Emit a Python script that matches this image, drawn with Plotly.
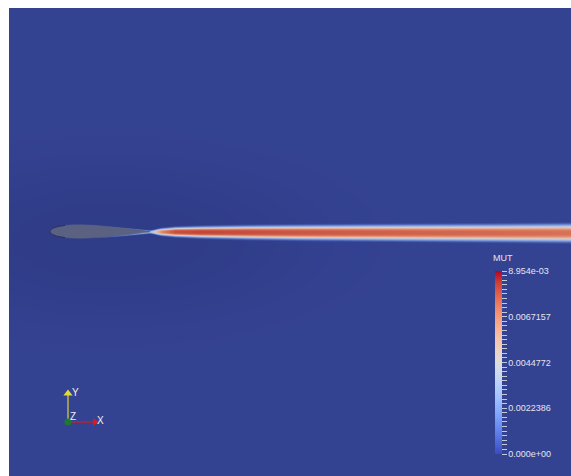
import numpy as np
import plotly.graph_objects as go

# ---------------------------------------------------------------- data
# MUT range shown on the colour legend
MUT_MIN = 0.0
MUT_MAX = 0.0089543
tick_labels = ["0.000e+00", "0.0022386", "0.0044772", "0.0067157", "8.954e-03"]

# airfoil half-thickness table (x/c, y/c)
foil_xc = [0.0, 0.0125, 0.025, 0.05, 0.075, 0.1, 0.15, 0.2, 0.25, 0.3,
           0.4, 0.5, 0.6, 0.7, 0.8, 0.9, 0.95, 1.0]
foil_yt = [0.0, 0.0215, 0.0300, 0.0410, 0.0482, 0.0535, 0.0605, 0.0645,
           0.0665, 0.0668, 0.0640, 0.0575, 0.0485, 0.0380, 0.0265, 0.0145,
           0.0082, 0.0014]

# wake stations (x/c) with centreline MUT, half-width and centre height
wake_x = [1.0, 1.1, 1.25, 1.5, 2.0, 2.5, 3.5, 4.5, 5.21]
wake_peak = [0.0030, 0.0064, 0.0080, 0.0082, 0.0080, 0.0078, 0.0075, 0.0073, 0.0071]
wake_width = [0.014, 0.030, 0.040, 0.047, 0.055, 0.060, 0.066, 0.071, 0.076]
wake_yc = [0.0, 0.0, 0.0, -0.002, -0.004, -0.006, -0.008, -0.010, -0.011]

# boundary layer on the aft part of the airfoil
bl_x = [0.35, 0.6, 0.8, 0.95, 1.0]
bl_peak = [0.0, 0.0008, 0.0016, 0.0026, 0.0030]
bl_thick = [0.004, 0.006, 0.009, 0.011, 0.013]

# far field level and the low region around the body
MUT_FREESTREAM = 0.00027
MUT_NEAR_BODY = 0.00006

# ---------------------------------------------------------------- view
X_RANGE = [-0.41, 5.21]
Y_RANGE = [-2.445, 2.235]
W, H = 571, 476
ML, MT = 9, 8

xs = np.linspace(X_RANGE[0], X_RANGE[1], 282)
ys = np.linspace(Y_RANGE[0], Y_RANGE[1], 469)
X, Y = np.meshgrid(xs, ys)

# far field with the darker pocket around the airfoil
r2 = ((X - 0.6) / 2.0) ** 2 + ((Y + 0.09) / 0.78) ** 2
field = MUT_FREESTREAM - (MUT_FREESTREAM - MUT_NEAR_BODY) * np.exp(-r2 ** 1.5)

# wake
pk = np.interp(xs, wake_x, wake_peak, left=0.0, right=wake_peak[-1])
wd = np.interp(xs, wake_x, wake_width)
yc = np.interp(xs, wake_x, wake_yc)
wake = pk[None, :] * np.exp(-np.abs((Y - yc[None, :]) / wd[None, :]) ** 3)
field = np.maximum(field, wake)

# boundary layer along upper and lower surfaces
yt = np.interp(xs, foil_xc, foil_yt, left=0.0, right=0.0)
bp = np.interp(xs, bl_x, bl_peak, left=0.0, right=0.0)
bt = np.interp(xs, bl_x, bl_thick)
dist = np.abs(Y) - yt[None, :]
bl = bp[None, :] * np.exp(-(np.clip(dist, 0, None) / bt[None, :]) ** 2)
field = np.maximum(field, bl)
field = np.round(np.clip(field, MUT_MIN, MUT_MAX), 7)

# shaded colours used in the rendered scene
scene_scale = [
    [0.00, "rgb(46,58,132)"],
    [0.03, "rgb(52,66,146)"],
    [0.10, "rgb(74,96,180)"],
    [0.20, "rgb(112,142,212)"],
    [0.30, "rgb(148,172,224)"],
    [0.40, "rgb(182,194,218)"],
    [0.50, "rgb(208,204,206)"],
    [0.60, "rgb(226,184,166)"],
    [0.70, "rgb(228,150,122)"],
    [0.80, "rgb(214,110,84)"],
    [0.90, "rgb(198,76,62)"],
    [1.00, "rgb(172,30,38)"],
]

# cool-to-warm legend colours
cool_warm = [
    [0.0, "rgb(59,76,192)"], [0.0625, "rgb(77,104,215)"],
    [0.125, "rgb(98,130,234)"], [0.1875, "rgb(119,154,247)"],
    [0.25, "rgb(141,176,254)"], [0.3125, "rgb(163,194,255)"],
    [0.375, "rgb(184,208,249)"], [0.4375, "rgb(204,217,238)"],
    [0.5, "rgb(221,221,221)"], [0.5625, "rgb(236,211,197)"],
    [0.625, "rgb(245,196,173)"], [0.6875, "rgb(247,177,148)"],
    [0.75, "rgb(244,154,123)"], [0.8125, "rgb(236,127,99)"],
    [0.875, "rgb(222,96,77)"], [0.9375, "rgb(203,62,56)"],
    [1.0, "rgb(180,4,38)"],
]


def to_data(px, py):
    """screen pixel -> view coordinates"""
    return (px - 50) / 100.0, (231.5 - py) / 100.0


def to_paper(px, py):
    return (px - ML) / (W - ML), (H - py) / (H - MT)


fig = go.Figure()

fig.add_trace(go.Heatmap(
    x=xs, y=ys, z=field, colorscale=scene_scale, zmin=MUT_MIN, zmax=MUT_MAX,
    zsmooth="best", showscale=False, hoverinfo="skip"))

# airfoil body
fx = list(foil_xc) + list(foil_xc[::-1])
fy = list(foil_yt) + [-v for v in foil_yt[::-1]]
fig.add_trace(go.Scatter(
    x=fx, y=fy, mode="lines", fill="toself", fillcolor="#5a6181",
    line=dict(color="#5a6181", width=0.5, shape="spline"), hoverinfo="skip"))
# darker edge at the nose
nose_n = 7
nx = list(foil_xc[:nose_n][::-1]) + list(foil_xc[1:nose_n])
ny = [v for v in foil_yt[:nose_n][::-1]] + [-v for v in foil_yt[1:nose_n]]
fig.add_trace(go.Scatter(
    x=nx, y=ny, mode="lines", line=dict(color="#20285a", width=0.9, shape="spline"),
    hoverinfo="skip"))

# colour legend
tick_vals = [MUT_MIN + (MUT_MAX - MUT_MIN) * i / 40 for i in range(41)]
tick_text = [tick_labels[i // 10] if i % 10 == 0 else "" for i in range(41)]
cbx, cby = to_paper(495, 271)
fig.add_trace(go.Scatter(
    x=[-5, -5], y=[0, 0], mode="markers", hoverinfo="skip",
    marker=dict(color=[MUT_MIN, MUT_MAX], colorscale=cool_warm, cmin=MUT_MIN,
                cmax=MUT_MAX, showscale=True,
                colorbar=dict(
                    x=cbx, xanchor="left", y=cby, yanchor="top",
                    len=183 / (H - MT), lenmode="fraction", thickness=7,
                    xpad=0, ypad=0, outlinewidth=0,
                    tickmode="array", tickvals=tick_vals, ticktext=tick_text,
                    ticks="outside", ticklen=5, tickwidth=1, tickcolor="#c8c8d8",
                    tickfont=dict(family="Liberation Sans", size=9, color="#e4e4ee"),
                ))))

# orientation triad
ox, oy = to_data(68, 422)
tx, ty = to_data(68, 391)
rx, ry = to_data(97, 422)
fig.add_trace(go.Scatter(x=[ox, tx], y=[oy, ty], mode="lines",
                         line=dict(color="#cfc64a", width=1.3), hoverinfo="skip"))
fig.add_trace(go.Scatter(x=[ox, rx], y=[oy, ry], mode="lines",
                         line=dict(color="#c8202a", width=1.3), hoverinfo="skip"))
fig.add_trace(go.Scatter(x=[tx], y=[ty - 0.025], mode="markers", hoverinfo="skip",
                         marker=dict(symbol="triangle-up", size=8, color="#e2d83a")))
fig.add_trace(go.Scatter(x=[rx - 0.02], y=[ry], mode="markers", hoverinfo="skip",
                         marker=dict(symbol="triangle-right", size=7, color="#d81c24")))
fig.add_trace(go.Scatter(x=[ox], y=[oy], mode="markers", hoverinfo="skip",
                         marker=dict(symbol="circle", size=7, color="#1a7a2e")))

annotations = []
for label, px, py in [("Y", 75, 392), ("Z", 73, 416), ("X", 100, 420)]:
    ax_, ay_ = to_paper(px, py)
    annotations.append(dict(x=ax_, y=ay_, xref="paper", yref="paper", text=label,
                            showarrow=False, xanchor="center", yanchor="middle",
                            font=dict(family="Liberation Sans", size=10, color="#f0f0f0")))
mx, my = to_paper(491, 258)
annotations.append(dict(x=mx, y=my, xref="paper", yref="paper", text="MUT",
                        showarrow=False, xanchor="left", yanchor="middle",
                        font=dict(family="Liberation Sans", size=9, color="#e4e4ee")))

fig.update_layout(
    width=W, height=H, autosize=False,
    margin=dict(l=ML, r=0, t=MT, b=0, pad=0),
    paper_bgcolor="white", plot_bgcolor="rgb(52,66,146)",
    showlegend=False, annotations=annotations,
    xaxis=dict(range=X_RANGE, visible=False, fixedrange=True),
    yaxis=dict(range=Y_RANGE, visible=False, fixedrange=True),
)

fig.write_html("out.html", config={"displayModeBar": False})
